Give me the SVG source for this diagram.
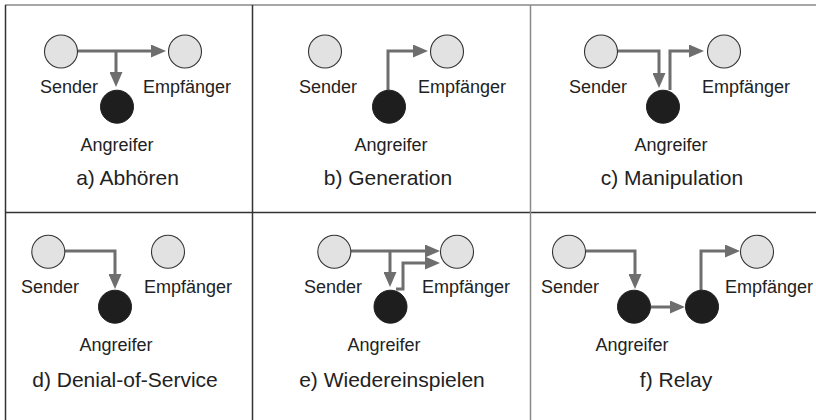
<svg xmlns="http://www.w3.org/2000/svg" width="816" height="420" viewBox="0 0 816 420">
<style>
.bg{fill:#ffffff}
.node{fill:#e2e2e2;stroke:#333333;stroke-width:1.1}
.att{fill:#1e1e1e;stroke:#1e1e1e;stroke-width:1}
.edge{fill:none;stroke:#6e6e6e;stroke-width:3;stroke-linejoin:miter}
.lbl{font-family:"Liberation Sans",Arial,sans-serif;font-size:18px;fill:#222222;text-anchor:middle}
.ttl{font-family:"Liberation Sans",Arial,sans-serif;font-size:21px;fill:#222222;text-anchor:middle}
.bd{stroke:#333333;stroke-width:1.5;fill:none}
.bg2{stroke:#8a8a8a;stroke-width:1.5;fill:none}
</style>
<defs>
<marker id="ah" markerUnits="userSpaceOnUse" markerWidth="15" markerHeight="13" refX="0" refY="6.5" orient="auto">
<path d="M0,0 L15,6.5 L0,13 z" fill="#6e6e6e"/>
</marker>
</defs>
<rect class="bg" x="0" y="0" width="816" height="420"/>
<g id="frame">
<line class="bg2" x1="5" y1="5" x2="816" y2="5"/>
<line class="bd" x1="5.5" y1="5" x2="5.5" y2="420"/>
<line class="bd" x1="5" y1="212.5" x2="816" y2="212.5"/>
<line class="bd" x1="252.5" y1="5" x2="252.5" y2="420"/>
<line class="bg2" x1="530.5" y1="5" x2="530.5" y2="420"/>
</g>
<g id="connectors">
<!-- a -->
<path class="edge" d="M78,51 H151" marker-end="url(#ah)"/>
<path class="edge" d="M116,51 V72" marker-end="url(#ah)"/>
<!-- b -->
<path class="edge" d="M388,90 V51 H413" marker-end="url(#ah)"/>
<!-- c -->
<path class="edge" d="M617,51 H659 V73" marker-end="url(#ah)"/>
<path class="edge" d="M670,90 V51 H689" marker-end="url(#ah)"/>
<!-- d -->
<path class="edge" d="M65,251 H115 V274" marker-end="url(#ah)"/>
<!-- e -->
<path class="edge" d="M351,251 H425" marker-end="url(#ah)"/>
<path class="edge" d="M390,251 V272" marker-end="url(#ah)"/>
<path class="edge" d="M396,289 H403 V263 H425" marker-end="url(#ah)"/>
<!-- f -->
<path class="edge" d="M586,251 H635 V274" marker-end="url(#ah)"/>
<path class="edge" d="M651,307 H670" marker-end="url(#ah)"/>
<path class="edge" d="M701,290 V251 H725" marker-end="url(#ah)"/>
</g>
<g id="panel-a">
<circle class="node" cx="61" cy="51.5" r="16.5"/>
<circle class="node" cx="185" cy="51.5" r="16.5"/>
<circle class="att" cx="117" cy="106.7" r="16.5"/>
<text class="lbl" x="69" y="93">Sender</text>
<text class="lbl" x="187" y="93">Empfänger</text>
<text class="lbl" x="117" y="150.5">Angreifer</text>
<text class="ttl" x="127.5" y="185">a) Abhören</text>
</g>
<g id="panel-b">
<circle class="node" cx="325" cy="51.5" r="16.5"/>
<circle class="node" cx="447" cy="51.5" r="16.5"/>
<circle class="att" cx="389" cy="106.7" r="16.5"/>
<text class="lbl" x="328" y="93">Sender</text>
<text class="lbl" x="462" y="93">Empfänger</text>
<text class="lbl" x="391" y="150.5">Angreifer</text>
<text class="ttl" x="388" y="185">b) Generation</text>
</g>
<g id="panel-c">
<circle class="node" cx="601" cy="51.5" r="16.5"/>
<circle class="node" cx="724" cy="51.5" r="16.5"/>
<circle class="att" cx="663" cy="106.7" r="16.5"/>
<text class="lbl" x="598" y="93">Sender</text>
<text class="lbl" x="746" y="93">Empfänger</text>
<text class="lbl" x="671" y="150.5">Angreifer</text>
<text class="ttl" x="672" y="185">c) Manipulation</text>
</g>
<g id="panel-d">
<circle class="node" cx="48.3" cy="251.7" r="16.5"/>
<circle class="node" cx="168" cy="251.7" r="16.5"/>
<circle class="att" cx="115" cy="306.7" r="16.5"/>
<text class="lbl" x="50" y="293">Sender</text>
<text class="lbl" x="188" y="293">Empfänger</text>
<text class="lbl" x="116" y="350.5">Angreifer</text>
<text class="ttl" x="125" y="387">d) Denial-of-Service</text>
</g>
<g id="panel-e">
<circle class="node" cx="334.3" cy="251.7" r="16.5"/>
<circle class="node" cx="457" cy="251.7" r="16.5"/>
<circle class="att" cx="390.5" cy="306.7" r="16.5"/>
<text class="lbl" x="333" y="293">Sender</text>
<text class="lbl" x="466" y="293">Empfänger</text>
<text class="lbl" x="384" y="350.5">Angreifer</text>
<text class="ttl" x="392" y="387">e) Wiedereinspielen</text>
</g>
<g id="panel-f">
<circle class="node" cx="569" cy="251.7" r="16.5"/>
<circle class="node" cx="757" cy="251.7" r="16.5"/>
<circle class="att" cx="634" cy="306.7" r="16.5"/>
<circle class="att" cx="702" cy="306.7" r="16.5"/>
<text class="lbl" x="570" y="293">Sender</text>
<text class="lbl" x="769" y="293">Empfänger</text>
<text class="lbl" x="632" y="350.5">Angreifer</text>
<text class="ttl" x="676" y="387">f) Relay</text>
</g>
</svg>
